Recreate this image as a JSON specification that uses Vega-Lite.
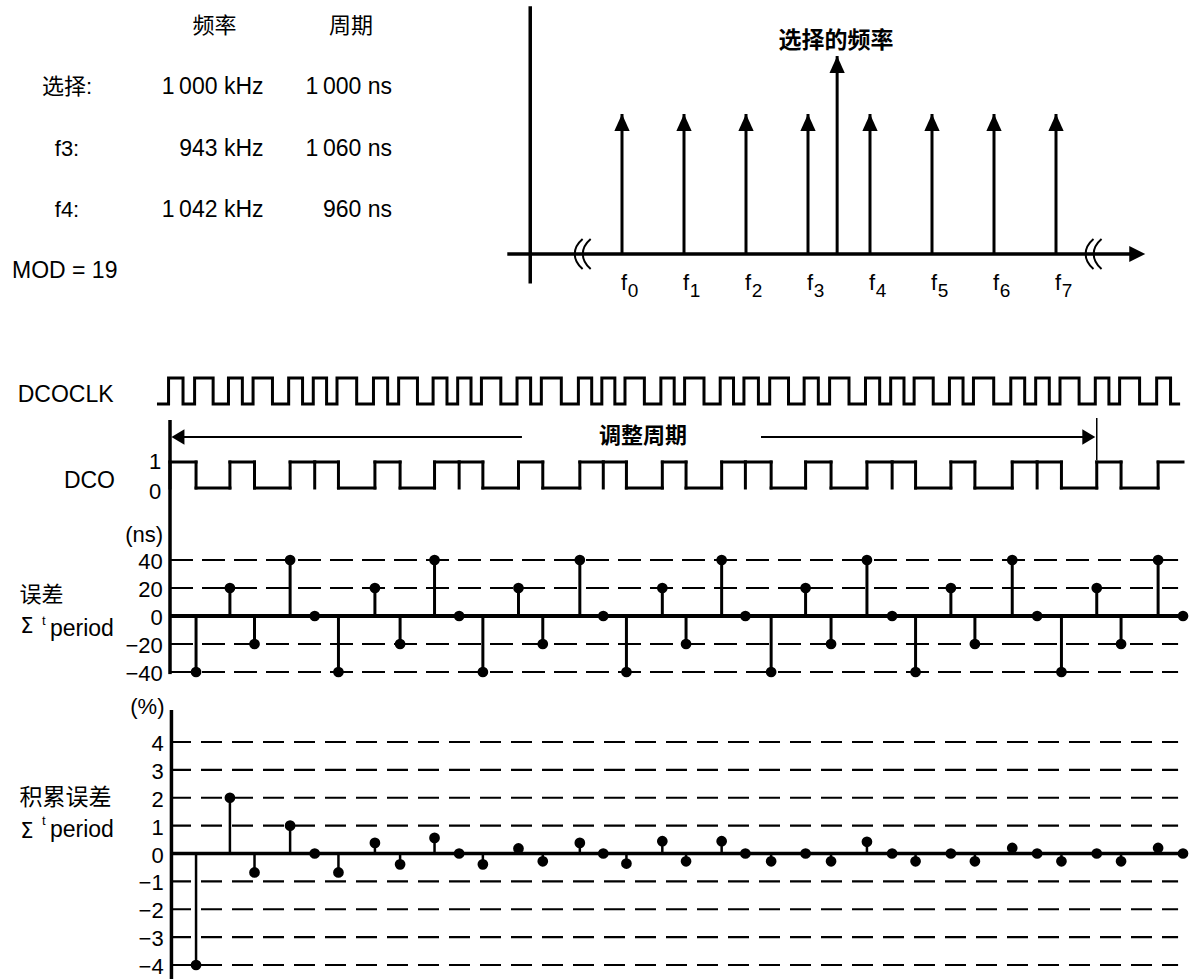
{
  "$schema": "https://vega.github.io/schema/vega-lite/v6.json",
  "width": 1192,
  "height": 979,
  "padding": 0,
  "autosize": {"type": "none"},
  "background": "#ffffff",
  "config": {
    "view": {"stroke": null},
    "mark": {"color": "#000"},
    "text": {"font": "Liberation Sans, Noto Sans CJK SC", "fontSize": 22, "baseline": "middle"},
    "rule": {"strokeWidth": 3},
    "line": {"strokeWidth": 3}
  },
  "datasets": {
    "one": [{"k": 1}],
    "table": [
      {"row": "hdr", "col": "freq", "text": "频率"},
      {"row": "hdr", "col": "period", "text": "周期"},
      {"row": "sel", "col": "label", "text": "选择:"},
      {"row": "sel", "col": "freq", "text": "1\u2009000 kHz"},
      {"row": "sel", "col": "period", "text": "1\u2009000 ns"},
      {"row": "f3", "col": "label", "text": "f3:"},
      {"row": "f3", "col": "freq", "text": "943 kHz"},
      {"row": "f3", "col": "period", "text": "1\u2009060 ns"},
      {"row": "f4", "col": "label", "text": "f4:"},
      {"row": "f4", "col": "freq", "text": "1\u2009042 kHz"},
      {"row": "f4", "col": "period", "text": "960 ns"},
      {"row": "mod", "col": "label", "text": "MOD = 19"}
    ],
    "lines": [
      {"idx": 0, "amp": 1, "sub": "0"},
      {"idx": 1, "amp": 1, "sub": "1"},
      {"idx": 2, "amp": 1, "sub": "2"},
      {"idx": 3, "amp": 1, "sub": "3"},
      {"idx": 4, "amp": 1, "sub": "4"},
      {"idx": 5, "amp": 1, "sub": "5"},
      {"idx": 6, "amp": 1, "sub": "6"},
      {"idx": 7, "amp": 1, "sub": "7"},
      {"idx": 3.47, "amp": 1.414, "sub": ""}
    ],
    "breaks": [{"pos": -0.72}, {"pos": -0.59}, {"pos": 7.52}, {"pos": 7.65}],
    "clk": [
      {"t": -0.45, "v": 0},
      {"t": -0.05, "v": 1}, {"t": 0.45, "v": 0},
      {"t": 0.85, "v": 1}, {"t": 1.49, "v": 0},
      {"t": 2.02, "v": 1}, {"t": 2.50, "v": 0},
      {"t": 2.87, "v": 1}, {"t": 3.54, "v": 0},
      {"t": 4.10, "v": 1}, {"t": 4.58, "v": 0},
      {"t": 4.95, "v": 1}, {"t": 5.41, "v": 0},
      {"t": 5.77, "v": 1}, {"t": 6.45, "v": 0},
      {"t": 7.03, "v": 1}, {"t": 7.52, "v": 0},
      {"t": 7.90, "v": 1}, {"t": 8.55, "v": 0},
      {"t": 9.09, "v": 1}, {"t": 9.57, "v": 0},
      {"t": 9.94, "v": 1}, {"t": 10.40, "v": 0},
      {"t": 10.76, "v": 1}, {"t": 11.43, "v": 0},
      {"t": 11.99, "v": 1}, {"t": 12.46, "v": 0},
      {"t": 12.83, "v": 1}, {"t": 13.52, "v": 0},
      {"t": 14.11, "v": 1}, {"t": 14.57, "v": 0},
      {"t": 14.92, "v": 1}, {"t": 15.37, "v": 0},
      {"t": 15.72, "v": 1}, {"t": 16.39, "v": 0},
      {"t": 16.96, "v": 1}, {"t": 17.42, "v": 0},
      {"t": 17.78, "v": 1}, {"t": 18.45, "v": 0},
      {"t": 19.01, "v": 1}, {"t": 19.47, "v": 0},
      {"t": 19.83, "v": 1}, {"t": 20.33, "v": 0},
      {"t": 20.72, "v": 1}, {"t": 21.37, "v": 0},
      {"t": 21.91, "v": 1}, {"t": 22.40, "v": 0},
      {"t": 22.79, "v": 1}, {"t": 23.46, "v": 0},
      {"t": 24.03, "v": 1}, {"t": 24.52, "v": 0},
      {"t": 24.90, "v": 1}, {"t": 25.36, "v": 0},
      {"t": 25.71, "v": 1}, {"t": 26.37, "v": 0},
      {"t": 26.93, "v": 1}, {"t": 27.40, "v": 0},
      {"t": 27.76, "v": 1}, {"t": 28.46, "v": 0},
      {"t": 29.05, "v": 1}, {"t": 29.53, "v": 0},
      {"t": 29.91, "v": 1}, {"t": 30.38, "v": 0},
      {"t": 30.75, "v": 1}, {"t": 31.41, "v": 0},
      {"t": 31.97, "v": 1}, {"t": 32.44, "v": 0},
      {"t": 32.81, "v": 1}, {"t": 33.50, "v": 0},
      {"t": 34.09, "v": 1}, {"t": 34.57, "v": 0},
      {"t": 34.9, "v": 0}
    ],
    "cycles": [
      {"k": 1, "start": 0, "end": 0.90, "dco": 1, "err": -40, "cum": -4},
      {"k": 2, "start": 0.90, "end": 2.07, "dco": 0, "err": 20, "cum": 2},
      {"k": 3, "start": 2.07, "end": 2.92, "dco": 1, "err": -20, "cum": -0.68},
      {"k": 4, "start": 2.92, "end": 4.15, "dco": 0, "err": 40, "cum": 1},
      {"k": 5, "start": 4.15, "end": 5.00, "dco": 1, "err": 0, "cum": 0},
      {"k": 6, "start": 5.00, "end": 5.82, "dco": 1, "err": -40, "cum": -0.68},
      {"k": 7, "start": 5.82, "end": 7.08, "dco": 0, "err": 20, "cum": 0.38},
      {"k": 8, "start": 7.08, "end": 7.95, "dco": 1, "err": -20, "cum": -0.39},
      {"k": 9, "start": 7.95, "end": 9.14, "dco": 0, "err": 40, "cum": 0.56},
      {"k": 10, "start": 9.14, "end": 9.99, "dco": 1, "err": 0, "cum": 0},
      {"k": 11, "start": 9.99, "end": 10.81, "dco": 1, "err": -40, "cum": -0.39},
      {"k": 12, "start": 10.81, "end": 12.04, "dco": 0, "err": 20, "cum": 0.18},
      {"k": 13, "start": 12.04, "end": 12.88, "dco": 1, "err": -20, "cum": -0.28},
      {"k": 14, "start": 12.88, "end": 14.16, "dco": 0, "err": 40, "cum": 0.38},
      {"k": 15, "start": 14.16, "end": 14.97, "dco": 1, "err": 0, "cum": 0},
      {"k": 16, "start": 14.97, "end": 15.77, "dco": 1, "err": -40, "cum": -0.36},
      {"k": 17, "start": 15.77, "end": 17.01, "dco": 0, "err": 20, "cum": 0.44},
      {"k": 18, "start": 17.01, "end": 17.83, "dco": 1, "err": -20, "cum": -0.28},
      {"k": 19, "start": 17.83, "end": 19.06, "dco": 0, "err": 40, "cum": 0.44},
      {"k": 20, "start": 19.06, "end": 19.88, "dco": 1, "err": 0, "cum": 0},
      {"k": 21, "start": 19.88, "end": 20.77, "dco": 1, "err": -40, "cum": -0.28},
      {"k": 22, "start": 20.77, "end": 21.96, "dco": 0, "err": 20, "cum": 0},
      {"k": 23, "start": 21.96, "end": 22.84, "dco": 1, "err": -20, "cum": -0.28},
      {"k": 24, "start": 22.84, "end": 24.08, "dco": 0, "err": 40, "cum": 0.42},
      {"k": 25, "start": 24.08, "end": 24.95, "dco": 1, "err": 0, "cum": 0},
      {"k": 26, "start": 24.95, "end": 25.76, "dco": 1, "err": -40, "cum": -0.28},
      {"k": 27, "start": 25.76, "end": 26.98, "dco": 0, "err": 20, "cum": 0},
      {"k": 28, "start": 26.98, "end": 27.81, "dco": 1, "err": -20, "cum": -0.28},
      {"k": 29, "start": 27.81, "end": 29.10, "dco": 0, "err": 40, "cum": 0.2},
      {"k": 30, "start": 29.10, "end": 29.96, "dco": 1, "err": 0, "cum": 0},
      {"k": 31, "start": 29.96, "end": 30.80, "dco": 1, "err": -40, "cum": -0.28},
      {"k": 32, "start": 30.80, "end": 32.02, "dco": 0, "err": 20, "cum": 0},
      {"k": 33, "start": 32.02, "end": 32.86, "dco": 1, "err": -20, "cum": -0.28},
      {"k": 34, "start": 32.86, "end": 34.14, "dco": 0, "err": 40, "cum": 0.2},
      {"k": 35, "start": 34.14, "end": 35.00, "dco": 1, "err": 0, "cum": 0}
    ],
    "nsTicks": [
      {"v": 40, "lab": "40"}, {"v": 20, "lab": "20"}, {"v": 0, "lab": "0"},
      {"v": -20, "lab": "\u221220"}, {"v": -40, "lab": "\u221240"}
    ],
    "pTicks": [
      {"v": 4, "lab": "4"}, {"v": 3, "lab": "3"}, {"v": 2, "lab": "2"}, {"v": 1, "lab": "1"},
      {"v": 0, "lab": "0"}, {"v": -1, "lab": "\u22121"}, {"v": -2, "lab": "\u22122"},
      {"v": -3, "lab": "\u22123"}, {"v": -4, "lab": "\u22124"}
    ]
  },
  "layer": [
    {"data": {"name": "table"}, "transform": [{"filter": "datum.col === 'label' && datum.row !== 'mod'"}],
     "mark": {"type": "text", "align": "center", "fontSize": 22},
     "encoding": {"x": {"field": "col", "type": "nominal", "scale": {"type": "point", "domain": ["label", "freq", "period"], "range": [67, 392], "padding": 0}, "axis": null},
                  "y": {"field": "row", "type": "nominal", "scale": {"type": "point", "domain": ["hdr", "sel", "f3", "f4", "mod"], "range": [26, 271], "padding": 0}, "axis": null},
                  "text": {"field": "text", "type": "nominal"}}},
    {"data": {"name": "table"}, "transform": [{"filter": "datum.col === 'freq' && datum.row !== 'hdr'"}],
     "mark": {"type": "text", "align": "right", "dx": 34, "fontSize": 23},
     "encoding": {"x": {"field": "col", "type": "nominal", "scale": {"type": "point", "domain": ["label", "freq", "period"], "range": [67, 392], "padding": 0}, "axis": null},
                  "y": {"field": "row", "type": "nominal", "scale": {"type": "point", "domain": ["hdr", "sel", "f3", "f4", "mod"], "range": [26, 271], "padding": 0}, "axis": null},
                  "text": {"field": "text", "type": "nominal"}}},
    {"data": {"name": "table"}, "transform": [{"filter": "datum.col === 'period' && datum.row !== 'hdr'"}],
     "mark": {"type": "text", "align": "right", "fontSize": 23},
     "encoding": {"x": {"field": "col", "type": "nominal", "scale": {"type": "point", "domain": ["label", "freq", "period"], "range": [67, 392], "padding": 0}, "axis": null},
                  "y": {"field": "row", "type": "nominal", "scale": {"type": "point", "domain": ["hdr", "sel", "f3", "f4", "mod"], "range": [26, 271], "padding": 0}, "axis": null},
                  "text": {"field": "text", "type": "nominal"}}},
    {"data": {"name": "table"}, "transform": [{"filter": "datum.col === 'freq' && datum.row === 'hdr'"}],
     "mark": {"type": "text", "align": "center", "dx": -15, "fontSize": 22},
     "encoding": {"x": {"field": "col", "type": "nominal", "scale": {"type": "point", "domain": ["label", "freq", "period"], "range": [67, 392], "padding": 0}, "axis": null},
                  "y": {"field": "row", "type": "nominal", "scale": {"type": "point", "domain": ["hdr", "sel", "f3", "f4", "mod"], "range": [26, 271], "padding": 0}, "axis": null},
                  "text": {"field": "text", "type": "nominal"}}},
    {"data": {"name": "table"}, "transform": [{"filter": "datum.col === 'period' && datum.row === 'hdr'"}],
     "mark": {"type": "text", "align": "center", "dx": -41, "fontSize": 22},
     "encoding": {"x": {"field": "col", "type": "nominal", "scale": {"type": "point", "domain": ["label", "freq", "period"], "range": [67, 392], "padding": 0}, "axis": null},
                  "y": {"field": "row", "type": "nominal", "scale": {"type": "point", "domain": ["hdr", "sel", "f3", "f4", "mod"], "range": [26, 271], "padding": 0}, "axis": null},
                  "text": {"field": "text", "type": "nominal"}}},
    {"data": {"name": "table"}, "transform": [{"filter": "datum.row === 'mod'"}],
     "mark": {"type": "text", "align": "left", "dx": -55, "fontSize": 23},
     "encoding": {"x": {"field": "col", "type": "nominal", "scale": {"type": "point", "domain": ["label", "freq", "period"], "range": [67, 392], "padding": 0}, "axis": null},
                  "y": {"field": "row", "type": "nominal", "scale": {"type": "point", "domain": ["hdr", "sel", "f3", "f4", "mod"], "range": [26, 271], "padding": 0}, "axis": null},
                  "text": {"field": "text", "type": "nominal"}}},

    {"data": {"name": "one"}, "mark": {"type": "rule", "strokeWidth": 3.5},
     "encoding": {"x": {"datum": -1.48, "type": "quantitative", "scale": {"domain": [0, 7], "range": [622, 1056], "nice": false, "zero": false}, "axis": null},
                  "y": {"datum": -0.21, "type": "quantitative", "scale": {"domain": [0, 1], "range": [254, 114], "nice": false, "zero": false}, "axis": null},
                  "y2": {"datum": 1.77}}},
    {"data": {"name": "one"}, "mark": {"type": "rule", "strokeWidth": 3.5},
     "encoding": {"x": {"datum": -1.85, "type": "quantitative", "scale": {"domain": [0, 7], "range": [622, 1056], "nice": false, "zero": false}, "axis": null},
                  "x2": {"datum": 8.2},
                  "y": {"datum": 0, "type": "quantitative", "scale": {"domain": [0, 1], "range": [254, 114], "nice": false, "zero": false}, "axis": null}}},
    {"data": {"name": "one"}, "mark": {"type": "point", "shape": "M0,0L-1,-0.5L-1,0.5Z", "size": 1024, "filled": true, "opacity": 1},
     "encoding": {"x": {"datum": 8.44, "type": "quantitative", "scale": {"domain": [0, 7], "range": [622, 1056], "nice": false, "zero": false}, "axis": null},
                  "y": {"datum": 0, "type": "quantitative", "scale": {"domain": [0, 1], "range": [254, 114], "nice": false, "zero": false}, "axis": null}}},
    {"data": {"name": "breaks"}, "mark": {"type": "point", "shape": "M0.35,-1C-0.35,-0.4,-0.35,0.4,0.35,1", "filled": false, "opacity": 1, "strokeWidth": 2, "size": 900},
     "encoding": {"x": {"field": "pos", "type": "quantitative", "scale": {"domain": [0, 7], "range": [622, 1056], "nice": false, "zero": false}, "axis": null},
                  "y": {"datum": 0, "type": "quantitative", "scale": {"domain": [0, 1], "range": [254, 114], "nice": false, "zero": false}, "axis": null}}},
    {"data": {"name": "lines"}, "mark": {"type": "rule", "strokeWidth": 3},
     "encoding": {"x": {"field": "idx", "type": "quantitative", "scale": {"domain": [0, 7], "range": [622, 1056], "nice": false, "zero": false}, "axis": null},
                  "y": {"field": "amp", "type": "quantitative", "scale": {"domain": [0, 1], "range": [254, 114], "nice": false, "zero": false}, "axis": null},
                  "y2": {"datum": 0}}},
    {"data": {"name": "lines"}, "mark": {"type": "point", "shape": "M0,0L-0.45,1L0.45,1Z", "size": 1156, "filled": true, "opacity": 1},
     "encoding": {"x": {"field": "idx", "type": "quantitative", "scale": {"domain": [0, 7], "range": [622, 1056], "nice": false, "zero": false}, "axis": null},
                  "y": {"field": "amp", "type": "quantitative", "scale": {"domain": [0, 1], "range": [254, 114], "nice": false, "zero": false}, "axis": null}}},
    {"data": {"name": "lines"}, "transform": [{"filter": "datum.sub !== ''"}],
     "mark": {"type": "text", "text": "f", "align": "center", "baseline": "alphabetic", "dx": 2, "fontSize": 22},
     "encoding": {"x": {"field": "idx", "type": "quantitative", "scale": {"domain": [0, 7], "range": [622, 1056], "nice": false, "zero": false}, "axis": null},
                  "y": {"datum": -0.257, "type": "quantitative", "scale": {"domain": [0, 1], "range": [254, 114], "nice": false, "zero": false}, "axis": null}}},
    {"data": {"name": "lines"}, "transform": [{"filter": "datum.sub !== ''"}],
     "mark": {"type": "text", "align": "center", "baseline": "alphabetic", "dx": 11, "dy": 7, "fontSize": 19},
     "encoding": {"x": {"field": "idx", "type": "quantitative", "scale": {"domain": [0, 7], "range": [622, 1056], "nice": false, "zero": false}, "axis": null},
                  "y": {"datum": -0.257, "type": "quantitative", "scale": {"domain": [0, 1], "range": [254, 114], "nice": false, "zero": false}, "axis": null},
                  "text": {"field": "sub", "type": "nominal"}}},
    {"data": {"name": "one"}, "mark": {"type": "text", "text": "选择的频率", "align": "center", "fontSize": 23, "fontWeight": "bold"},
     "encoding": {"x": {"datum": 3.45, "type": "quantitative", "scale": {"domain": [0, 7], "range": [622, 1056], "nice": false, "zero": false}, "axis": null},
                  "y": {"datum": 1.52, "type": "quantitative", "scale": {"domain": [0, 1], "range": [254, 114], "nice": false, "zero": false}, "axis": null}}},

    {"data": {"name": "clk"}, "mark": {"type": "line", "interpolate": "step-after", "strokeWidth": 3, "strokeJoin": "miter"},
     "encoding": {"x": {"field": "t", "type": "quantitative", "scale": {"domain": [0, 35], "range": [170, 1183], "nice": false, "zero": false}, "axis": null},
                  "y": {"field": "v", "type": "quantitative", "scale": {"domain": [0, 1], "range": [404, 378], "nice": false, "zero": false}, "axis": null}}},
    {"data": {"name": "one"}, "mark": {"type": "text", "text": "DCOCLK", "align": "right", "fontSize": 23},
     "encoding": {"x": {"datum": -1.95, "type": "quantitative", "scale": {"domain": [0, 35], "range": [170, 1183], "nice": false, "zero": false}, "axis": null},
                  "y": {"datum": 0.35, "type": "quantitative", "scale": {"domain": [0, 1], "range": [404, 378], "nice": false, "zero": false}, "axis": null}}},

    {"data": {"name": "cycles"}, "mark": {"type": "rule", "strokeWidth": 3, "strokeCap": "square"},
     "encoding": {"x": {"field": "start", "type": "quantitative", "scale": {"domain": [0, 35], "range": [170, 1183], "nice": false, "zero": false}, "axis": null},
                  "x2": {"field": "end"},
                  "y": {"field": "dco", "type": "quantitative", "scale": {"domain": [0, 1], "range": [488, 462], "nice": false, "zero": false}, "axis": null}}},
    {"data": {"name": "cycles"}, "mark": {"type": "rule", "strokeWidth": 3, "strokeCap": "square"},
     "encoding": {"x": {"field": "start", "type": "quantitative", "scale": {"domain": [0, 35], "range": [170, 1183], "nice": false, "zero": false}, "axis": null},
                  "y": {"datum": 0, "type": "quantitative", "scale": {"domain": [0, 1], "range": [488, 462], "nice": false, "zero": false}, "axis": null},
                  "y2": {"datum": 1}}},
    {"data": {"name": "one"}, "mark": {"type": "text", "text": "1", "align": "right", "fontSize": 22},
     "encoding": {"x": {"datum": -0.3, "type": "quantitative", "scale": {"domain": [0, 35], "range": [170, 1183], "nice": false, "zero": false}, "axis": null},
                  "y": {"datum": 1, "type": "quantitative", "scale": {"domain": [0, 1], "range": [488, 462], "nice": false, "zero": false}, "axis": null}}},
    {"data": {"name": "one"}, "mark": {"type": "text", "text": "0", "align": "right", "fontSize": 22},
     "encoding": {"x": {"datum": -0.3, "type": "quantitative", "scale": {"domain": [0, 35], "range": [170, 1183], "nice": false, "zero": false}, "axis": null},
                  "y": {"datum": -0.15, "type": "quantitative", "scale": {"domain": [0, 1], "range": [488, 462], "nice": false, "zero": false}, "axis": null}}},
    {"data": {"name": "one"}, "mark": {"type": "text", "text": "DCO", "align": "right", "fontSize": 23},
     "encoding": {"x": {"datum": -1.9, "type": "quantitative", "scale": {"domain": [0, 35], "range": [170, 1183], "nice": false, "zero": false}, "axis": null},
                  "y": {"datum": 0.27, "type": "quantitative", "scale": {"domain": [0, 1], "range": [488, 462], "nice": false, "zero": false}, "axis": null}}},
    {"data": {"name": "one"}, "mark": {"type": "rule", "strokeWidth": 2},
     "encoding": {"x": {"datum": 0.4, "type": "quantitative", "scale": {"domain": [0, 35], "range": [170, 1183], "nice": false, "zero": false}, "axis": null},
                  "x2": {"datum": 12.16},
                  "y": {"datum": 1.96, "type": "quantitative", "scale": {"domain": [0, 1], "range": [488, 462], "nice": false, "zero": false}, "axis": null}}},
    {"data": {"name": "one"}, "mark": {"type": "rule", "strokeWidth": 2},
     "encoding": {"x": {"datum": 20.42, "type": "quantitative", "scale": {"domain": [0, 35], "range": [170, 1183], "nice": false, "zero": false}, "axis": null},
                  "x2": {"datum": 31.6},
                  "y": {"datum": 1.96, "type": "quantitative", "scale": {"domain": [0, 1], "range": [488, 462], "nice": false, "zero": false}, "axis": null}}},
    {"data": {"name": "one"}, "mark": {"type": "point", "shape": "M0,0L1,-0.6L1,0.6Z", "size": 676, "filled": true, "opacity": 1},
     "encoding": {"x": {"datum": 0.05, "type": "quantitative", "scale": {"domain": [0, 35], "range": [170, 1183], "nice": false, "zero": false}, "axis": null},
                  "y": {"datum": 1.96, "type": "quantitative", "scale": {"domain": [0, 1], "range": [488, 462], "nice": false, "zero": false}, "axis": null}}},
    {"data": {"name": "one"}, "mark": {"type": "point", "shape": "M0,0L-1,-0.6L-1,0.6Z", "size": 676, "filled": true, "opacity": 1},
     "encoding": {"x": {"datum": 31.97, "type": "quantitative", "scale": {"domain": [0, 35], "range": [170, 1183], "nice": false, "zero": false}, "axis": null},
                  "y": {"datum": 1.96, "type": "quantitative", "scale": {"domain": [0, 1], "range": [488, 462], "nice": false, "zero": false}, "axis": null}}},
    {"data": {"name": "one"}, "mark": {"type": "rule", "strokeWidth": 1.5},
     "encoding": {"x": {"datum": 32.02, "type": "quantitative", "scale": {"domain": [0, 35], "range": [170, 1183], "nice": false, "zero": false}, "axis": null},
                  "y": {"datum": 1.08, "type": "quantitative", "scale": {"domain": [0, 1], "range": [488, 462], "nice": false, "zero": false}, "axis": null},
                  "y2": {"datum": 2.69}}},
    {"data": {"name": "one"}, "mark": {"type": "text", "text": "调整周期", "align": "center", "fontSize": 22, "fontWeight": "bold"},
     "encoding": {"x": {"datum": 16.34, "type": "quantitative", "scale": {"domain": [0, 35], "range": [170, 1183], "nice": false, "zero": false}, "axis": null},
                  "y": {"datum": 2.0, "type": "quantitative", "scale": {"domain": [0, 1], "range": [488, 462], "nice": false, "zero": false}, "axis": null}}},

    {"data": {"name": "nsTicks"}, "transform": [{"filter": "datum.v !== 0"}], "mark": {"type": "rule", "strokeWidth": 2.2, "strokeDash": [23, 9]},
     "encoding": {"x": {"datum": 0, "type": "quantitative", "scale": {"domain": [0, 35], "range": [170, 1183], "nice": false, "zero": false}, "axis": null},
                  "x2": {"datum": 34.83},
                  "y": {"field": "v", "type": "quantitative", "scale": {"domain": [-40, 40], "range": [672, 560], "nice": false, "zero": false}, "axis": null}}},
    {"data": {"name": "nsTicks"}, "mark": {"type": "text", "align": "right", "dy": 2, "fontSize": 22},
     "encoding": {"x": {"datum": -0.25, "type": "quantitative", "scale": {"domain": [0, 35], "range": [170, 1183], "nice": false, "zero": false}, "axis": null},
                  "y": {"field": "v", "type": "quantitative", "scale": {"domain": [-40, 40], "range": [672, 560], "nice": false, "zero": false}, "axis": null},
                  "text": {"field": "lab", "type": "nominal"}}},
    {"data": {"name": "one"}, "mark": {"type": "rule", "strokeWidth": 4},
     "encoding": {"x": {"datum": 0, "type": "quantitative", "scale": {"domain": [0, 35], "range": [170, 1183], "nice": false, "zero": false}, "axis": null},
                  "x2": {"datum": 35},
                  "y": {"datum": 0, "type": "quantitative", "scale": {"domain": [-40, 40], "range": [672, 560], "nice": false, "zero": false}, "axis": null}}},
    {"data": {"name": "one"}, "mark": {"type": "rule", "strokeWidth": 3.5},
     "encoding": {"x": {"datum": 0, "type": "quantitative", "scale": {"domain": [0, 35], "range": [170, 1183], "nice": false, "zero": false}, "axis": null},
                  "y": {"datum": -41.5, "type": "quantitative", "scale": {"domain": [-40, 40], "range": [672, 560], "nice": false, "zero": false}, "axis": null},
                  "y2": {"datum": 140}}},
    {"data": {"name": "cycles"}, "mark": {"type": "rule", "strokeWidth": 3},
     "encoding": {"x": {"field": "end", "type": "quantitative", "scale": {"domain": [0, 35], "range": [170, 1183], "nice": false, "zero": false}, "axis": null},
                  "y": {"field": "err", "type": "quantitative", "scale": {"domain": [-40, 40], "range": [672, 560], "nice": false, "zero": false}, "axis": null},
                  "y2": {"datum": 0}}},
    {"data": {"name": "cycles"}, "mark": {"type": "point", "shape": "circle", "size": 115, "filled": true, "opacity": 1},
     "encoding": {"x": {"field": "end", "type": "quantitative", "scale": {"domain": [0, 35], "range": [170, 1183], "nice": false, "zero": false}, "axis": null},
                  "y": {"field": "err", "type": "quantitative", "scale": {"domain": [-40, 40], "range": [672, 560], "nice": false, "zero": false}, "axis": null}}},
    {"data": {"name": "one"}, "mark": {"type": "text", "text": "(ns)", "align": "right", "fontSize": 22},
     "encoding": {"x": {"datum": -0.24, "type": "quantitative", "scale": {"domain": [0, 35], "range": [170, 1183], "nice": false, "zero": false}, "axis": null},
                  "y": {"datum": 58, "type": "quantitative", "scale": {"domain": [-40, 40], "range": [672, 560], "nice": false, "zero": false}, "axis": null}}},
    {"data": {"name": "one"}, "mark": {"type": "text", "text": "误差", "align": "left", "fontSize": 22},
     "encoding": {"x": {"datum": -5.2, "type": "quantitative", "scale": {"domain": [0, 35], "range": [170, 1183], "nice": false, "zero": false}, "axis": null},
                  "y": {"datum": 15, "type": "quantitative", "scale": {"domain": [-40, 40], "range": [672, 560], "nice": false, "zero": false}, "axis": null}}},
    {"data": {"name": "one"}, "mark": {"type": "text", "text": "Σ", "font": "DejaVu Sans", "align": "left", "baseline": "alphabetic", "fontSize": 21},
     "encoding": {"x": {"datum": -5.17, "type": "quantitative", "scale": {"domain": [0, 35], "range": [170, 1183], "nice": false, "zero": false}, "axis": null},
                  "y": {"datum": -12.1, "type": "quantitative", "scale": {"domain": [-40, 40], "range": [672, 560], "nice": false, "zero": false}, "axis": null}}},
    {"data": {"name": "one"}, "mark": {"type": "text", "text": "t", "align": "left", "baseline": "alphabetic", "fontSize": 13},
     "encoding": {"x": {"datum": -4.42, "type": "quantitative", "scale": {"domain": [0, 35], "range": [170, 1183], "nice": false, "zero": false}, "axis": null},
                  "y": {"datum": -6.4, "type": "quantitative", "scale": {"domain": [-40, 40], "range": [672, 560], "nice": false, "zero": false}, "axis": null}}},
    {"data": {"name": "one"}, "mark": {"type": "text", "text": "period", "align": "left", "baseline": "alphabetic", "fontSize": 23},
     "encoding": {"x": {"datum": -4.15, "type": "quantitative", "scale": {"domain": [0, 35], "range": [170, 1183], "nice": false, "zero": false}, "axis": null},
                  "y": {"datum": -14.5, "type": "quantitative", "scale": {"domain": [-40, 40], "range": [672, 560], "nice": false, "zero": false}, "axis": null}}},

    {"data": {"name": "pTicks"}, "transform": [{"filter": "datum.v !== 0"}], "mark": {"type": "rule", "strokeWidth": 2.2, "strokeDash": [21, 10]},
     "encoding": {"x": {"datum": 0, "type": "quantitative", "scale": {"domain": [0, 35], "range": [170, 1183], "nice": false, "zero": false}, "axis": null},
                  "x2": {"datum": 34.83},
                  "y": {"field": "v", "type": "quantitative", "scale": {"domain": [-4, 4], "range": [965, 742], "nice": false, "zero": false}, "axis": null}}},
    {"data": {"name": "pTicks"}, "mark": {"type": "text", "align": "right", "dy": 2, "fontSize": 22},
     "encoding": {"x": {"datum": -0.22, "type": "quantitative", "scale": {"domain": [0, 35], "range": [170, 1183], "nice": false, "zero": false}, "axis": null},
                  "y": {"field": "v", "type": "quantitative", "scale": {"domain": [-4, 4], "range": [965, 742], "nice": false, "zero": false}, "axis": null},
                  "text": {"field": "lab", "type": "nominal"}}},
    {"data": {"name": "one"}, "mark": {"type": "rule", "strokeWidth": 3.5},
     "encoding": {"x": {"datum": 0, "type": "quantitative", "scale": {"domain": [0, 35], "range": [170, 1183], "nice": false, "zero": false}, "axis": null},
                  "x2": {"datum": 35},
                  "y": {"datum": 0, "type": "quantitative", "scale": {"domain": [-4, 4], "range": [965, 742], "nice": false, "zero": false}, "axis": null}}},
    {"data": {"name": "one"}, "mark": {"type": "rule", "strokeWidth": 3.5},
     "encoding": {"x": {"datum": 0.05, "type": "quantitative", "scale": {"domain": [0, 35], "range": [170, 1183], "nice": false, "zero": false}, "axis": null},
                  "y": {"datum": -4.6, "type": "quantitative", "scale": {"domain": [-4, 4], "range": [965, 742], "nice": false, "zero": false}, "axis": null},
                  "y2": {"datum": 5.15}}},
    {"data": {"name": "cycles"}, "mark": {"type": "rule", "strokeWidth": 2.5},
     "encoding": {"x": {"field": "end", "type": "quantitative", "scale": {"domain": [0, 35], "range": [170, 1183], "nice": false, "zero": false}, "axis": null},
                  "y": {"field": "cum", "type": "quantitative", "scale": {"domain": [-4, 4], "range": [965, 742], "nice": false, "zero": false}, "axis": null},
                  "y2": {"datum": 0}}},
    {"data": {"name": "cycles"}, "mark": {"type": "point", "shape": "circle", "size": 115, "filled": true, "opacity": 1},
     "encoding": {"x": {"field": "end", "type": "quantitative", "scale": {"domain": [0, 35], "range": [170, 1183], "nice": false, "zero": false}, "axis": null},
                  "y": {"field": "cum", "type": "quantitative", "scale": {"domain": [-4, 4], "range": [965, 742], "nice": false, "zero": false}, "axis": null}}},
    {"data": {"name": "one"}, "mark": {"type": "text", "text": "(%)", "align": "right", "fontSize": 22},
     "encoding": {"x": {"datum": -0.19, "type": "quantitative", "scale": {"domain": [0, 35], "range": [170, 1183], "nice": false, "zero": false}, "axis": null},
                  "y": {"datum": 5.26, "type": "quantitative", "scale": {"domain": [-4, 4], "range": [965, 742], "nice": false, "zero": false}, "axis": null}}},
    {"data": {"name": "one"}, "mark": {"type": "text", "text": "积累误差", "align": "left", "fontSize": 23},
     "encoding": {"x": {"datum": -5.2, "type": "quantitative", "scale": {"domain": [0, 35], "range": [170, 1183], "nice": false, "zero": false}, "axis": null},
                  "y": {"datum": 2.0, "type": "quantitative", "scale": {"domain": [-4, 4], "range": [965, 742], "nice": false, "zero": false}, "axis": null}}},
    {"data": {"name": "one"}, "mark": {"type": "text", "text": "Σ", "font": "DejaVu Sans", "align": "left", "baseline": "alphabetic", "fontSize": 21},
     "encoding": {"x": {"datum": -5.17, "type": "quantitative", "scale": {"domain": [0, 35], "range": [170, 1183], "nice": false, "zero": false}, "axis": null},
                  "y": {"datum": 0.556, "type": "quantitative", "scale": {"domain": [-4, 4], "range": [965, 742], "nice": false, "zero": false}, "axis": null}}},
    {"data": {"name": "one"}, "mark": {"type": "text", "text": "t", "align": "left", "baseline": "alphabetic", "fontSize": 13},
     "encoding": {"x": {"datum": -4.42, "type": "quantitative", "scale": {"domain": [0, 35], "range": [170, 1183], "nice": false, "zero": false}, "axis": null},
                  "y": {"datum": 1.02, "type": "quantitative", "scale": {"domain": [-4, 4], "range": [965, 742], "nice": false, "zero": false}, "axis": null}}},
    {"data": {"name": "one"}, "mark": {"type": "text", "text": "period", "align": "left", "baseline": "alphabetic", "fontSize": 23},
     "encoding": {"x": {"datum": -4.15, "type": "quantitative", "scale": {"domain": [0, 35], "range": [170, 1183], "nice": false, "zero": false}, "axis": null},
                  "y": {"datum": 0.59, "type": "quantitative", "scale": {"domain": [-4, 4], "range": [965, 742], "nice": false, "zero": false}, "axis": null}}}
  ],
  "resolve": {"scale": {"x": "independent", "y": "independent"}}
}
